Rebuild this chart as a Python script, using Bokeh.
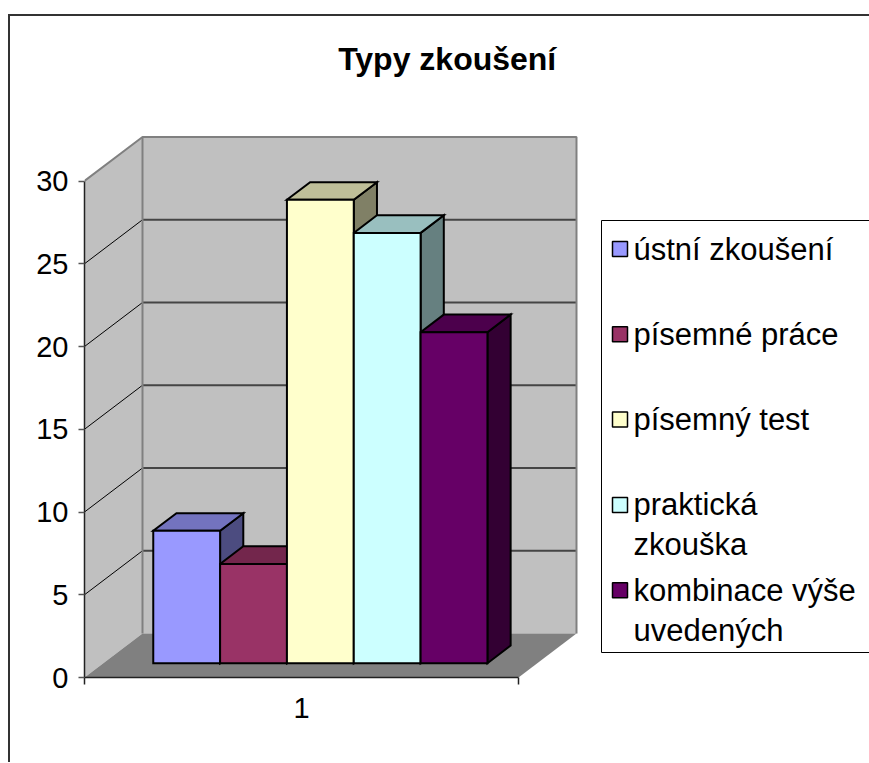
from bokeh.plotting import figure
from bokeh.models import (FixedTicker, Label, LinearAxis, Range1d)
from bokeh.core.properties import value
from bokeh.embed import file_html
from bokeh.resources import INLINE

# ---------------- data ----------------
title_text = "Typy zkoušení"
category_label = "1"
series_names = ["ústní zkoušení", "písemné práce", "písemný test",
                "praktická\nzkouška", "kombinace výše\nuvedených"]
series_values = [8, 6, 28, 26, 20]
series_colors = ["#9999FF", "#993366", "#FFFFCC", "#CCFFFF", "#660066"]
y_ticks = [0, 5, 10, 15, 20, 25, 30]

# ---------------- layout / style constants (pixels) ----------------
FONT = "Liberation Sans"
PX_X = 434.0          # pixels per category unit
PX_V = 16.55          # pixels per value unit
FRAME_W, FRAME_H = 785, 661
ORIGIN = (84, 677)    # page position of the front-left axis corner
DX = 58 / PX_X        # depth offset (x) of the 3D box
DY = 44 / PX_V        # depth offset (y) of the 3D box
BAR_W = 0.154         # width of one bar (category units)
D_FRONT, D_BACK = 0.325, 0.725
Y_MAX = y_ticks[-1]

WALL = "#C0C0C0"
FLOOR = "#808080"
EDGE = "#808080"


def px(xp, yp):
    """page pixel position -> data coordinates"""
    return (xp - ORIGIN[0]) / PX_X, (ORIGIN[1] - yp) / PX_V


def proj(x, v, d):
    return x + d * DX, v + d * DY


def shade(hexcol, f):
    h = hexcol.lstrip("#")
    r, g, b = (int(h[i:i + 2], 16) for i in (0, 2, 4))
    return "#%02x%02x%02x" % (round(r * f), round(g * f), round(b * f))


def poly(pts):
    xs, ys = zip(*[proj(*p) for p in pts])
    return list(xs), list(ys)


p = figure(frame_width=FRAME_W, frame_height=FRAME_H,
           x_range=Range1d(0, FRAME_W / PX_X), y_range=Range1d(0, FRAME_H / PX_V),
           x_axis_type=None, y_axis_type=None,
           output_backend="svg", toolbar_location=None,
           min_border_left=74, min_border_right=0, min_border_top=0, min_border_bottom=85,
           background_fill_color="white", border_fill_color="white",
           styles={"margin-top": "14px", "margin-left": "8px",
                   "border-top": "2px solid #333333",
                   "border-left": "2px solid #333333"})
p.outline_line_color = None

# ---------------- walls and floor ----------------
bx, by = poly([(0, 0, 1), (1, 0, 1), (1, Y_MAX, 1), (0, Y_MAX, 1)])
lx, ly = poly([(0, 0, 0), (0, 0, 1), (0, Y_MAX, 1), (0, Y_MAX, 0)])
fx, fy = poly([(0, 0, 0), (1, 0, 0), (1, 0, 1), (0, 0, 1)])
p.patch(bx, by, fill_color=WALL, line_color=None)
p.patch(lx, ly, fill_color=WALL, line_color=None)
p.patch(fx, fy, fill_color=FLOOR, line_color=None)

# gridlines
inner = [t for t in y_ticks if 0 < t < Y_MAX]
gx0, gy0, gx1, gy1 = [], [], [], []
for t in inner:
    (a, b), (c, d) = proj(0, t, 1), proj(1, t, 1)
    gx0.append(a); gy0.append(b); gx1.append(c); gy1.append(d)
p.segment(gx0, gy0, gx1, gy1, line_color="#454545", line_width=1.8)
sx0, sy0, sx1, sy1 = [], [], [], []
for t in inner:
    (a, b), (c, d) = proj(0, t, 0), proj(0, t, 1)
    sx0.append(a); sy0.append(b); sx1.append(c); sy1.append(d)
p.segment(sx0, sy0, sx1, sy1, line_color="black", line_width=1)

# wall edges
ex, ey = poly([(0, Y_MAX, 0), (0, Y_MAX, 1), (1, Y_MAX, 1), (1, 0, 1)])
p.line(ex, ey, line_color=EDGE, line_width=2)
cx, cy = poly([(0, 0, 1), (0, Y_MAX, 1)])
p.line(cx, cy, line_color=EDGE, line_width=2)

# ---------------- 3D bars ----------------
n = len(series_values)
start = 0.5 - n * BAR_W / 2
sides_x, sides_y, tops_x, tops_y, fr_x, fr_y = [], [], [], [], [], []
for i, v in enumerate(series_values):
    x0 = start + i * BAR_W
    x1 = x0 + BAR_W
    sxp, syp = poly([(x1, 0, D_FRONT), (x1, 0, D_BACK), (x1, v, D_BACK), (x1, v, D_FRONT)])
    txp, typ = poly([(x0, v, D_FRONT), (x1, v, D_FRONT), (x1, v, D_BACK), (x0, v, D_BACK)])
    fxp, fyp = poly([(x0, 0, D_FRONT), (x1, 0, D_FRONT), (x1, v, D_FRONT), (x0, v, D_FRONT)])
    sides_x.append(sxp); sides_y.append(syp)
    tops_x.append(txp); tops_y.append(typ)
    fr_x.append(fxp); fr_y.append(fyp)

p.patches(sides_x, sides_y, fill_color=[shade(c, 0.5) for c in series_colors],
          line_color="black", line_width=2, line_join="miter")
p.patches(tops_x, tops_y, fill_color=[shade(c, 0.75) for c in series_colors],
          line_color="black", line_width=2, line_join="miter")
p.patches(fr_x, fr_y, fill_color=series_colors,
          line_color="black", line_width=2, line_join="miter")

# ---------------- axes ----------------
yaxis = LinearAxis(ticker=FixedTicker(ticks=y_ticks), bounds=(0, Y_MAX),
                   axis_line_color="#222222", axis_line_width=1.5,
                   major_tick_out=6, major_tick_in=0, minor_tick_out=0, minor_tick_in=0,
                   major_tick_line_color="#555555", major_tick_line_width=1.5,
                   major_label_standoff=10, major_label_text_font=FONT,
                   major_label_text_font_size="29px", major_label_text_color="black")
p.add_layout(yaxis, "left")

xaxis = LinearAxis(ticker=FixedTicker(ticks=[0.5], minor_ticks=[0, 1]), bounds=(0, 1),
                   axis_line_color="#222222", axis_line_width=1.5,
                   major_tick_out=0, major_tick_in=0, minor_tick_out=7, minor_tick_in=0,
                   minor_tick_line_color="#222222", minor_tick_line_width=1.5,
                   major_label_overrides={0.5: category_label},
                   major_label_standoff=13, major_label_text_font=FONT,
                   major_label_text_font_size="29px", major_label_text_color="black")
p.add_layout(xaxis, "below")

# ---------------- title ----------------
tx, ty = px(446.7, 58)
p.add_layout(Label(x=tx, y=ty, text=title_text,
                   text_font=FONT, text_font_style="bold", text_font_size="32px",
                   text_align="center", text_baseline="middle", text_color="black"))

# ---------------- legend (keyed boxes beside the plot) ----------------
LEG_BOX = (601, 220, 900, 652)        # left, top, right, bottom (page px)
LEG_FIRST, LEG_STEP, LEG_LINE = 248.5, 85.3, 40
KEY_CX, KEY_SIZE, TEXT_X = 619.5, 15, 633

l0, t0 = px(LEG_BOX[0], LEG_BOX[1])
r0, b0 = px(LEG_BOX[2], LEG_BOX[3])
p.quad(left=[l0], right=[r0], top=[t0], bottom=[b0],
       fill_color="white", line_color="black", line_width=1)

key_x, key_y, lab_x, lab_y, lab_t = [], [], [], [], []
for i, name in enumerate(series_names):
    yk = LEG_FIRST + i * LEG_STEP
    kx, ky = px(KEY_CX, yk)
    key_x.append(kx); key_y.append(ky)
    for j, line in enumerate(name.split("\n")):
        ax, ay = px(TEXT_X, yk + j * LEG_LINE)
        lab_x.append(ax); lab_y.append(ay); lab_t.append(line)

p.scatter(key_x, key_y, marker="square", size=KEY_SIZE, fill_color=series_colors,
          line_color="black", line_width=1.5)
p.text(lab_x, lab_y, text=lab_t, text_font=value(FONT), text_font_size=value("31px"),
       text_align="left", text_baseline="middle", text_color="black")

open("out.html", "w").write(file_html(p, INLINE))
